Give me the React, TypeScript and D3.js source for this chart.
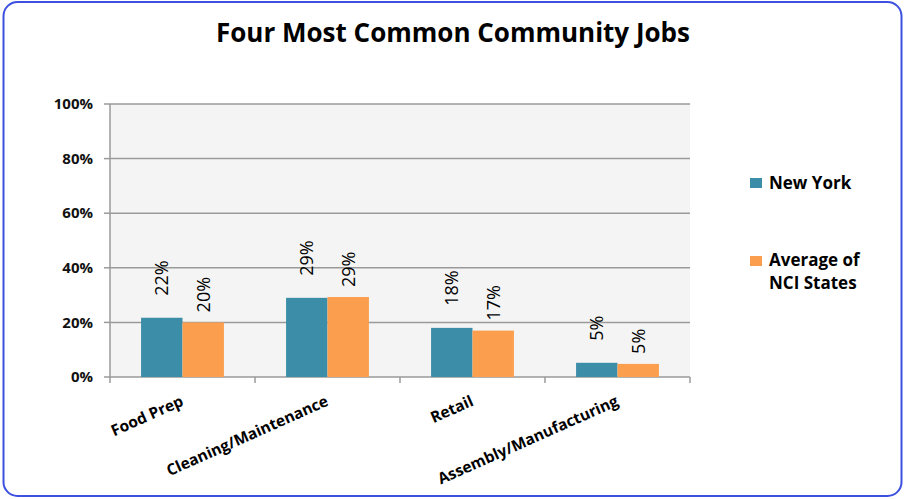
import React from "react";
import * as d3 from "d3";

const categories = ["Food Prep", "Cleaning/Maintenance", "Retail", "Assembly/Manufacturing"];
const seriesNames = ["New York", "Average of NCI States"];
const newYork = [21.7, 29, 18, 5.2];
const nciAverage = [20, 29.3, 17, 4.8];
const nyLabels = ["22%", "29%", "18%", "5%"];
const nciLabels = ["20%", "29%", "17%", "5%"];
const yTicks = [0, 20, 40, 60, 80, 100];
const colors = ["#3C8DA8", "#FB9F4F"];

const W = 905;
const H = 499;
const FONT = "'Open Sans', sans-serif";

export default function App() {
  const left = 110, right = 690, top = 104, bottom = 377;
  const x = d3.scaleBand<string>().domain(categories).range([left, right]);
  const y = d3.scaleLinear().domain([0, 100]).range([bottom, top]);
  const inner = d3.scaleBand<number>().domain([0, 1]).range([0, x.bandwidth()]).paddingOuter(0.75).paddingInner(0);
  const series = [newYork, nciAverage];
  const labels = [nyLabels, nciLabels];
  const labelGap = [22, 10];

  return (
    <div style={{ position: "absolute", left: 0, top: 0 }}>
      <svg width={W} height={H} style={{ display: "block", fontFamily: FONT }}>
        <rect x={0} y={0} width={W} height={H} fill="#fff" />
        <rect x={3.5} y={2} width={898} height={494} rx={14} ry={14} fill="#fff" stroke="#3D50E0" strokeWidth={2} />
        <text x={453} y={42} textAnchor="middle" fontSize={26} fontWeight={700} fill="#000">
          Four Most Common Community Jobs
        </text>
        <rect x={left} y={top} width={right - left} height={bottom - top} fill="#F4F4F4" />
        {yTicks.map((t) => (
          <g key={t}>
            {t > 0 && <line x1={left} x2={right} y1={y(t)} y2={y(t)} stroke="#9A9A9A" strokeWidth={1.5} />}
            <line x1={left - 6} x2={left} y1={y(t)} y2={y(t)} stroke="#9A9A9A" strokeWidth={1.5} />
            <text x={93} y={y(t)} dy="0.35em" textAnchor="end" fontSize={15} fontWeight={700} fill="#111">
              {t + "%"}
            </text>
          </g>
        ))}
        <line x1={left} x2={left} y1={top} y2={bottom} stroke="#9A9A9A" strokeWidth={1.5} />
        <line x1={left} x2={right} y1={bottom} y2={bottom} stroke="#9A9A9A" strokeWidth={1.5} />
        {categories.map((c) => (
          <line key={"tk" + c} x1={x(c)!} x2={x(c)!} y1={bottom} y2={bottom + 6} stroke="#9A9A9A" strokeWidth={1.5} />
        ))}
        <line x1={right} x2={right} y1={bottom} y2={bottom + 6} stroke="#9A9A9A" strokeWidth={1.5} />
        {series.map((vals, s) =>
          categories.map((c, i) => {
            const bx = x(c)! + inner(s)!;
            const by = y(vals[i]);
            const cx = bx + inner.bandwidth() / 2;
            const ly = by - labelGap[s];
            return (
              <g key={s + c}>
                <rect x={bx} y={by} width={inner.bandwidth()} height={bottom - by} fill={colors[s]} />
                <text
                  transform={`translate(${cx},${ly}) rotate(-90)`}
                  dy="0.35em"
                  textAnchor="start"
                  fontSize={18}
                  fill="#000"
                >
                  {labels[s][i]}
                </text>
              </g>
            );
          })
        )}
        {categories.map((c) => (
          <text
            key={"cl" + c}
            transform={`translate(${x(c)! + x.bandwidth() / 2 + 2},${405}) rotate(-24)`}
            textAnchor="end"
            fontSize={15.5}
            fontWeight={700}
            fill="#000"
          >
            {c}
          </text>
        ))}
        <g>
          <rect x={750} y={178} width={12} height={10} fill={colors[0]} />
          <text x={769} y={188.5} fontSize={17} fontWeight={700} fill="#000">{seriesNames[0]}</text>
          <rect x={750} y={256} width={12} height={10} fill={colors[1]} />
          <text x={769} y={265.5} fontSize={17} fontWeight={700} fill="#000">Average of</text>
          <text x={769} y={288.5} fontSize={17} fontWeight={700} fill="#000">NCI States</text>
        </g>
      </svg>
    </div>
  );
}
